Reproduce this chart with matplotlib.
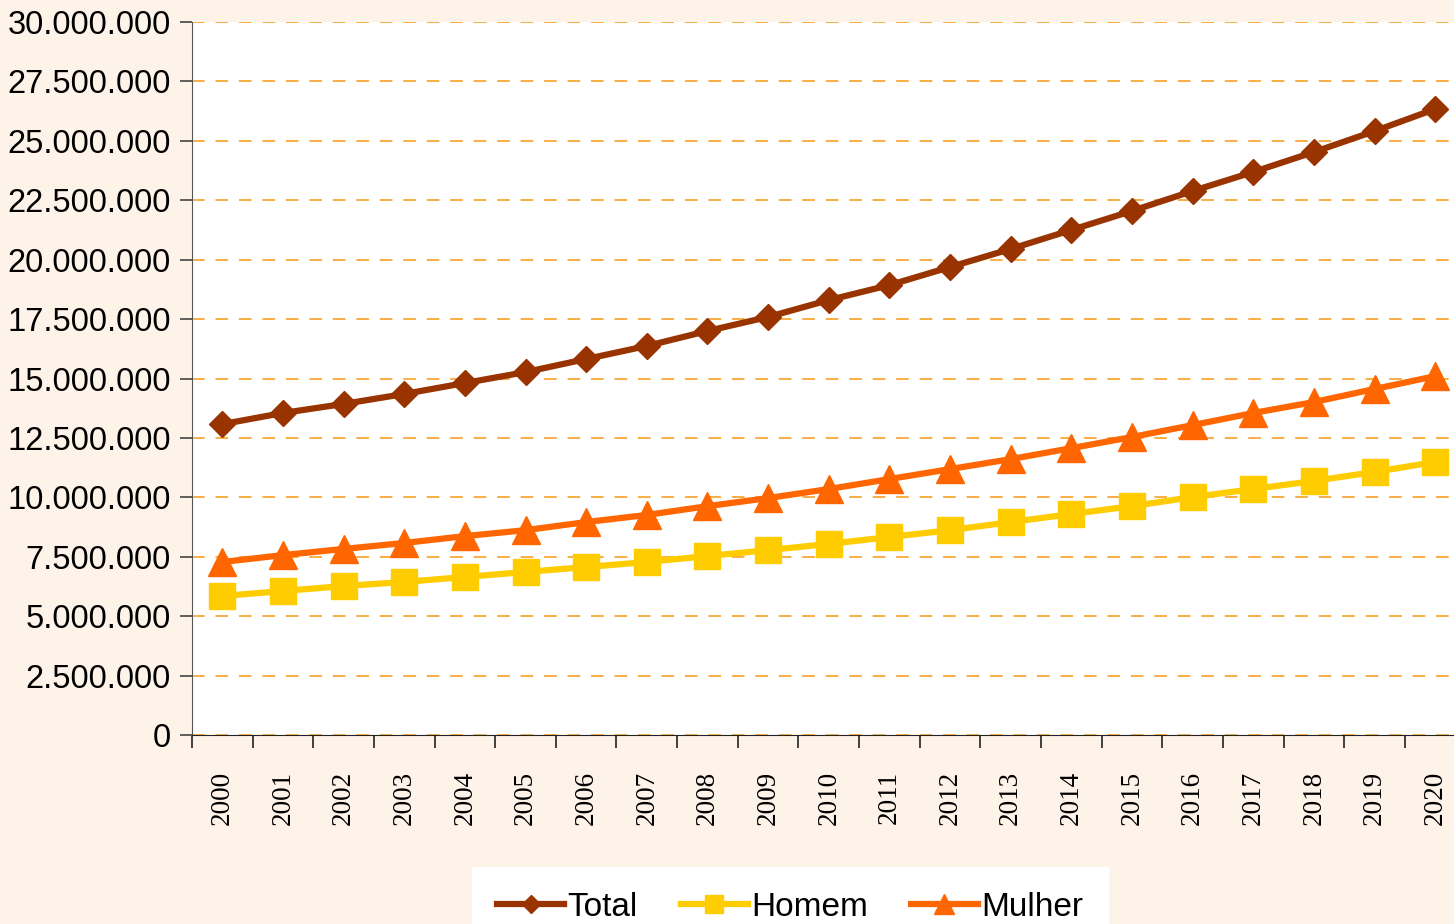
import matplotlib.pyplot as plt
from matplotlib.ticker import FuncFormatter, MultipleLocator
import numpy as np

years = [str(y) for y in range(2000, 2021)]
total = [13.08, 13.55, 13.93, 14.35, 14.81, 15.27, 15.82, 16.37, 17.00, 17.59, 18.30,
         18.93, 19.69, 20.45, 21.25, 22.05, 22.89, 23.69, 24.53, 25.41, 26.34]
homem = [5.85, 6.06, 6.27, 6.44, 6.65, 6.86, 7.07, 7.28, 7.53, 7.78, 8.04,
         8.33, 8.62, 8.96, 9.30, 9.63, 10.01, 10.35, 10.69, 11.07, 11.49]
mulher = [7.28, 7.57, 7.83, 8.08, 8.37, 8.62, 8.96, 9.26, 9.63, 9.97, 10.35,
          10.77, 11.19, 11.61, 12.07, 12.54, 13.04, 13.55, 14.01, 14.56, 15.10]

bg = '#FEF3E9'
fig = plt.figure(figsize=(14.54, 9.24), dpi=100, facecolor=bg)
ax = fig.add_axes([0.132, 0.2045, 0.876, 0.7717])
ax.set_facecolor('white')

x = np.arange(len(years))
scale = 1e6
ax.plot(x, np.array(total) * scale, color='#993300', lw=4.5, marker='D', ms=13.5,
        label='Total', zorder=3)
ax.plot(x, np.array(homem) * scale, color='#FFCC00', lw=4.5, marker='s', ms=19,
        label='Homem', zorder=3)
ax.plot(x, np.array(mulher) * scale, color='#FF6600', lw=4.5, marker='^', ms=20,
        label='Mulher', zorder=3)

ax.set_ylim(0, 30e6)
ax.set_xlim(-0.5, len(years) - 0.5)
ax.yaxis.set_major_locator(MultipleLocator(2.5e6))
ax.yaxis.set_major_formatter(FuncFormatter(lambda v, p: f'{int(v):,}'.replace(',', '.')))
ax.grid(axis='y', color='#F9A837', lw=1.3, dashes=(7, 6))
ax.set_axisbelow(True)

for s in ['top', 'right']:
    ax.spines[s].set_visible(False)
ax.spines['left'].set_color('#555555')
ax.spines['bottom'].set_color('#222222')

ax.set_xticks(x)
ax.set_xticklabels(years, rotation=90)
ax.set_xticks(np.arange(-0.5, len(years), 1), minor=True)
ax.tick_params(axis='x', which='major', length=0, pad=26)
ax.tick_params(axis='x', which='minor', length=9, width=1.2, color='#222222')
ax.tick_params(axis='y', length=9, width=1.2, color='#444444', pad=6)
for lab in ax.get_xticklabels():
    lab.set_family('Liberation Serif')
    lab.set_fontsize(19.5)
for lab in ax.get_yticklabels():
    lab.set_family('Liberation Sans')
    lab.set_fontsize(23.5)

leg = fig.legend(loc='upper center', bbox_to_anchor=(0.5435, 0.0617), ncol=3,
                 frameon=True, fancybox=False, framealpha=1, edgecolor='white',
                 prop={'family': 'Liberation Sans', 'size': 24},
                 handlelength=2.0, handletextpad=0.1, columnspacing=1.3,
                 borderpad=0.75, borderaxespad=0, markerscale=0.7)

fig.savefig('out.png', dpi=100, facecolor=bg)
